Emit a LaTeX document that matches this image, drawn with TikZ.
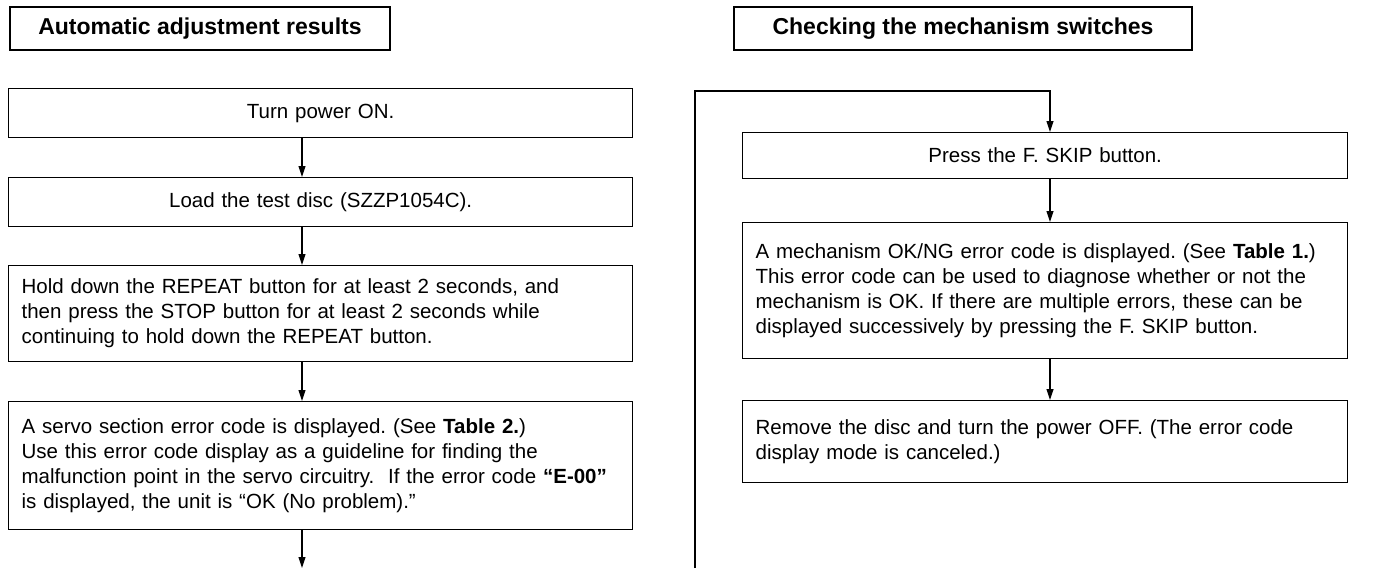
\documentclass[tikz,border=0pt]{standalone}
\usepackage{fontspec}
\setmainfont{Liberation Sans}
\usetikzlibrary{arrows.meta}
\frenchspacing

\begin{document}
\begin{tikzpicture}[x=1pt, y=-1pt,
    box/.style={draw, line width=1.3pt, anchor=north west, inner xsep=13pt,
      font=\fontsize{20.5}{25}\selectfont},
    headbox/.style={draw, line width=1.3pt, minimum height=43pt,
      font=\bfseries\fontsize{23}{27}\selectfont},
    arr/.style={line width=1.1pt, -{Triangle[length=11pt, width=7pt]}}]
  \useasboundingbox (0,0) rectangle (1377,568);

  \coordinate (colL) at (302,0);
  \coordinate (colR) at (1050,0);

  \node[headbox, minimum width=380pt] (headL) at (200,28.5) {Automatic adjustment results};
  \node[headbox, minimum width=458pt] (headR) at (963,28.5) {Checking the mechanism switches};

  \node[box, minimum width=624pt, minimum height=49pt, text width=598pt, align=center]
    (power) at (8,88) {Turn power ON.\hspace*{84pt}};
  \node[box, minimum width=624pt, minimum height=49pt, text width=598pt, align=center]
    (disc) at (8,177) {Load the test disc (SZZP1054C).\hspace*{84pt}};
  \node[box, minimum width=624pt, minimum height=96pt, text width=598pt, align=left]
    (repeat) at (8,265) {Hold down the REPEAT button for at least 2 seconds, and\\
    then press the STOP button for at least 2 seconds while\\
    continuing to hold down the REPEAT button.};
  \node[box, minimum width=624pt, minimum height=128pt, text width=598pt, align=left]
    (servo) at (8,401) {A servo section error code is displayed. (See \textbf{Table 2.})\\
    Use this error code display as a guideline for finding the\\
    malfunction point in the servo circuitry.\ \ If the error code \textbf{“E-00”}\\
    is displayed, the unit is “OK (No problem).”};

  \node[box, minimum width=605pt, minimum height=46pt, text width=579pt, align=center]
    (skip) at (742,132) {Press the F. SKIP button.\hspace*{96pt}};
  \node[box, minimum width=605pt, minimum height=136pt, text width=579pt, align=left]
    (okng) at (742,222) {A mechanism OK/NG error code is displayed. (See \textbf{Table 1.})\\
    This error code can be used to diagnose whether or not the\\
    mechanism is OK. If there are multiple errors, these can be\\
    displayed successively by pressing the F. SKIP button.};
  \node[box, minimum width=605pt, minimum height=82pt, text width=579pt, align=left]
    (off) at (742,400) {Remove the disc and turn the power OFF. (The error code\\
    display mode is canceled.)};

  \coordinate (endL) at (302,568);
  \coordinate (loopB) at (695,568);
  \coordinate (loopT) at (695,91);

  \draw[arr] (power.south -| colL) -- (disc.north -| colL);
  \draw[arr] (disc.south -| colL) -- (repeat.north -| colL);
  \draw[arr] (repeat.south -| colL) -- (servo.north -| colL);
  \draw[arr] (servo.south -| colL) -- (endL);

  \draw[arr] (loopB) -- (loopT) -| (skip.north -| colR);
  \draw[arr] (skip.south -| colR) -- (okng.north -| colR);
  \draw[arr] (okng.south -| colR) -- (off.north -| colR);
\end{tikzpicture}
\end{document}
